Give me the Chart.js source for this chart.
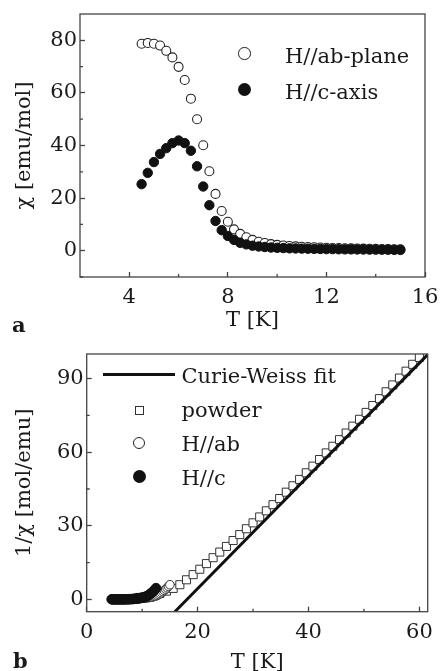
<!DOCTYPE html>
<html>
<head>
<meta charset="utf-8">
<script src="https://cdn.jsdelivr.net/npm/chart.js@4"></script>
<style>
  body { margin: 0; background: #fff; }
  #page { position: relative; width: 440px; height: 671px; overflow: hidden; background: #fff; }
  .box { position: absolute; left: 0; width: 440px; }
  .txt { position: absolute; font: 21px "DejaVu Serif", serif; line-height: 26px; color: #1a1a1a; white-space: nowrap; }
  .mk { position: absolute; box-sizing: border-box; }
</style>
</head>
<body>
<div id="page">
  <div class="box" style="top:0;height:340px"><canvas id="chartA"></canvas></div>
  <div class="box" style="top:340px;height:340px"><canvas id="chartB"></canvas></div>

  <!-- legend a -->
  <div class="mk" style="left:238px;top:47px;width:12.5px;height:12.5px;border:1.2px solid #222;border-radius:50%;background:#fff"></div>
  <div class="txt" style="left:285px;top:42.6px">H//ab-plane</div>
  <div class="mk" style="left:237.5px;top:83px;width:13px;height:13px;border-radius:50%;background:#111"></div>
  <div class="txt" style="left:285px;top:79px">H//c-axis</div>
  <div class="txt" style="left:12px;top:311.6px;font-weight:bold">a</div>

  <!-- legend b -->
  <div class="mk" style="left:103px;top:373px;width:72px;height:3px;background:#111"></div>
  <div class="txt" style="left:181.5px;top:363px">Curie-Weiss fit</div>
  <div class="mk" style="left:134.5px;top:405.5px;width:9px;height:9px;border:1.2px solid #333;background:#fff"></div>
  <div class="txt" style="left:181.5px;top:397px">powder</div>
  <div class="mk" style="left:133px;top:436.7px;width:12px;height:12px;border:1.2px solid #222;border-radius:50%;background:#fff"></div>
  <div class="txt" style="left:181.5px;top:431.3px">H//ab</div>
  <div class="mk" style="left:132.5px;top:470.2px;width:13px;height:13px;border-radius:50%;background:#111"></div>
  <div class="txt" style="left:181.5px;top:465.3px">H//c</div>
  <div class="txt" style="left:13px;top:647.6px;font-weight:bold">b</div>
</div>

<script>
// panel a: susceptibility
const tSingle = [4.5, 4.75, 5, 5.25, 5.5, 5.75, 6, 6.25, 6.5, 6.75, 7, 7.25, 7.5, 7.75, 8, 8.25, 8.5, 8.75, 9, 9.25, 9.5, 9.75,
  10, 10.25, 10.5, 10.75, 11, 11.25, 11.5, 11.75, 12, 12.25, 12.5, 12.75, 13, 13.25, 13.5, 13.75, 14, 14.25, 14.5, 14.75, 15];
const chiAb = [78.7, 79.0, 78.7, 78.0, 76.0, 73.5, 69.9, 64.9, 57.8, 50.0, 40.1, 30.2, 21.6, 15.1, 11.0, 8.1, 6.4, 5.1, 4.1, 3.4, 2.9, 2.5,
  2.2, 2.0, 1.8, 1.65, 1.5, 1.4, 1.3, 1.2, 1.1, 1.05, 1.0, 0.95, 0.9, 0.85, 0.8, 0.75, 0.7, 0.65, 0.6, 0.55, 0.5];
const chiC = [25.3, 29.6, 33.7, 36.8, 39.0, 40.9, 41.9, 40.9, 38.0, 32.1, 24.4, 17.3, 11.3, 7.8, 5.6, 4.1, 3.0, 2.4, 1.9, 1.6, 1.4, 1.2,
  1.1, 1.0, 0.9, 0.85, 0.8, 0.75, 0.7, 0.65, 0.6, 0.58, 0.55, 0.52, 0.5, 0.48, 0.45, 0.43, 0.4, 0.38, 0.35, 0.33, 0.3];

// panel b: inverse susceptibility
const invAb = [0.01, 0.01, 0.01, 0.01, 0.01, 0.01, 0.01, 0.02, 0.02, 0.02, 0.02, 0.03, 0.05, 0.07, 0.09, 0.12, 0.16, 0.2, 0.24, 0.29, 0.35, 0.4,
  0.45, 0.5, 0.56, 0.62, 0.7, 0.78, 0.87, 0.97, 1.1, 1.25, 1.45, 1.7, 2.0, 2.35, 2.75, 3.2, 3.7, 4.2, 4.75, 5.35, 6.0];
const tC = [4.5, 4.75, 5, 5.25, 5.5, 5.75, 6, 6.25, 6.5, 6.75, 7, 7.25, 7.5, 7.75, 8, 8.25, 8.5, 8.75, 9, 9.25, 9.5, 9.75,
  10, 10.25, 10.5, 10.75, 11, 11.25, 11.5, 11.75, 12, 12.25, 12.5];
const invC = [0.04, 0.03, 0.03, 0.03, 0.03, 0.02, 0.02, 0.02, 0.03, 0.03, 0.04, 0.06, 0.08, 0.1, 0.13, 0.16, 0.2, 0.27, 0.35, 0.42, 0.5, 0.6,
  0.7, 0.85, 1.0, 1.2, 1.5, 1.85, 2.3, 2.8, 3.3, 3.9, 4.6];
const tPowder = [9.6, 10.8, 12, 13.2, 14.4, 15.6, 16.8, 18, 19.2, 20.4, 21.6, 22.8, 24, 25.2, 26.4, 27.6, 28.8, 30, 31.2, 32.4, 33.6, 34.8,
  36, 37.2, 38.4, 39.6, 40.8, 42, 43.2, 44.4, 45.6, 46.8, 48, 49.2, 50.4, 51.6, 52.8, 54, 55.2, 56.4, 57.6, 58.8, 60];
const invPowder = [0.8, 1.2, 1.8, 2.5, 3.4, 4.5, 6.0, 8.0, 10.1, 12.3, 14.6, 17.0, 19.3, 21.6, 24.0, 26.4, 28.8, 31.2, 33.6, 36.1, 38.6, 41.1,
  43.7, 46.3, 48.9, 51.6, 54.3, 57.0, 59.7, 62.4, 65.1, 67.8, 70.6, 73.4, 76.2, 79.0, 81.8, 84.6, 87.4, 90.2, 93.0, 95.8, 98.6];
const tFit = [15.9, 61.6];
const invFit = [-5, 100];

// ticks
const xMajorA = [4, 8, 12, 16], xMinorA = [6, 10, 14];
const yMajorA = [0, 20, 40, 60, 80], yMinorA = [-10, 10, 30, 50, 70];
const xMajorB = [0, 20, 40, 60], xMinorB = [10, 30, 50];
const yMajorB = [0, 30, 60, 90], yMinorB = [15, 45, 75];

const ink = '#1a1a1a';
const frameColor = '#444';
const font = { family: '"DejaVu Serif", serif', size: 21 };

function pts(xs, ys) {
  return xs.map((x, i) => ({ x: x, y: ys[i] }));
}

// box frame and short inner minor ticks
const framePlugin = {
  id: 'frame',
  afterDraw(chart, args, opts) {
    const a = chart.chartArea, c = chart.ctx;
    const sx = chart.scales.x, sy = chart.scales.y;
    c.save();
    c.strokeStyle = frameColor;
    c.lineWidth = 1.3;
    c.strokeRect(a.left, a.top, a.right - a.left, a.bottom - a.top);
    c.beginPath();
    opts.minorX.forEach(v => {
      const px = sx.getPixelForValue(v);
      c.moveTo(px, a.bottom);
      c.lineTo(px, a.bottom - 3);
    });
    opts.minorY.forEach(v => {
      const py = sy.getPixelForValue(v);
      c.moveTo(a.left, py);
      c.lineTo(a.left + 3, py);
    });
    c.stroke();
    c.restore();
  }
};

function axis(min, max, major, title, size, titlePad, labelPad) {
  return {
    type: 'linear',
    min: min,
    max: max,
    afterBuildTicks: s => { s.ticks = major.map(v => ({ value: v })); },
    afterFit: s => {
      if (s.isHorizontal()) s.height = size; else s.width = size;
      // labels may hang over the plot edges like in the original
      s.paddingLeft = s.paddingRight = s.paddingTop = s.paddingBottom = 0;
    },
    border: { display: false },
    grid: { drawOnChartArea: false, tickLength: -5, tickColor: frameColor, tickWidth: 1.3 },
    ticks: { color: ink, font: font, padding: labelPad, autoSkip: false, maxRotation: 0 },
    title: { display: true, text: title, color: ink, font: font, padding: titlePad }
  };
}

Chart.defaults.animation = false;

new Chart(document.getElementById('chartA').getContext('2d'), {
  type: 'scatter',
  data: {
    datasets: [
      {
        label: 'H//c-axis',
        data: pts(tSingle, chiC),
        order: 0,
        pointRadius: 4.7,
        pointBackgroundColor: '#111',
        pointBorderColor: '#111',
        pointBorderWidth: 1
      },
      {
        label: 'H//ab-plane',
        data: pts(tSingle, chiAb),
        order: 1,
        pointRadius: 4.5,
        pointBackgroundColor: '#fff',
        pointBorderColor: '#222',
        pointBorderWidth: 1.1
      }
    ]
  },
  options: {
    responsive: true,
    maintainAspectRatio: false,
    devicePixelRatio: 1,
    layout: { padding: { left: 0, right: 15, top: 14, bottom: 0 } },
    scales: {
      x: axis(2, 16, xMajorA, 'T [K]', 63, { top: 0, bottom: 7 }, 13),
      y: axis(-10, 90, yMajorA, 'χ [emu/mol]', 80, { top: 12, bottom: 0 }, 8)
    },
    plugins: {
      legend: { display: false },
      tooltip: { enabled: false },
      frame: { minorX: xMinorA, minorY: yMinorA }
    }
  },
  plugins: [framePlugin]
});

new Chart(document.getElementById('chartB').getContext('2d'), {
  type: 'scatter',
  data: {
    datasets: [
      {
        label: 'Curie-Weiss fit',
        data: pts(tFit, invFit),
        order: 0,
        showLine: true,
        borderColor: '#111',
        borderWidth: 3,
        pointRadius: 0
      },
      {
        label: 'H//c',
        data: pts(tC, invC),
        order: 1,
        pointRadius: 4.8,
        pointBackgroundColor: '#111',
        pointBorderColor: '#111',
        pointBorderWidth: 1
      },
      {
        label: 'H//ab',
        data: pts(tSingle, invAb),
        order: 2,
        pointRadius: 4.3,
        pointBackgroundColor: '#fff',
        pointBorderColor: '#333',
        pointBorderWidth: 1
      },
      {
        label: 'powder',
        data: pts(tPowder, invPowder),
        order: 3,
        pointStyle: 'rect',
        pointRadius: 5.7,
        pointBackgroundColor: '#fff',
        pointBorderColor: '#333',
        pointBorderWidth: 1
      }
    ]
  },
  options: {
    responsive: true,
    maintainAspectRatio: false,
    devicePixelRatio: 1,
    layout: { padding: { left: 0, right: 12.3, top: 14, bottom: 0 } },
    scales: {
      x: axis(0, 61.5, xMajorB, 'T [K]', 68.3, { top: 0, bottom: 5 }, 13),
      y: axis(-5, 100, yMajorB, '1/χ [mol/emu]', 86.7, { top: 12, bottom: 0 }, 8)
    },
    plugins: {
      legend: { display: false },
      tooltip: { enabled: false },
      frame: { minorX: xMinorB, minorY: yMinorB }
    }
  },
  plugins: [framePlugin]
});
</script>
</body>
</html>
